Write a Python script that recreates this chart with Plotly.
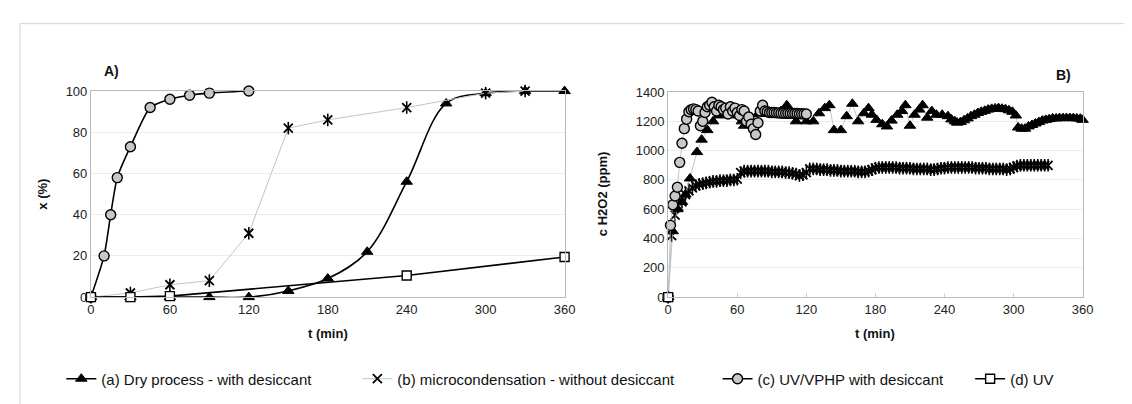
import plotly.graph_objects as go

# ---------------- Panel A data ----------------
a_t = [0, 30, 60, 90, 120, 150, 180, 210, 240, 270, 300, 330, 360]
a_x = [0, 0, 0, 0, 0, 3, 9, 22, 56, 94, 99, 100, 100]

b_t = [0, 30, 60, 90, 120, 150, 180, 240, 300, 330]
b_x = [0, 2, 6, 8, 31, 82, 86, 92, 99, 100]

c_t = [0, 10, 15, 20, 30, 45, 60, 75, 90, 120]
c_x = [0, 20, 40, 58, 73, 92, 96, 98, 99, 100]

d_t = [0, 30, 60, 240, 360]
d_x = [0, 0, 0.5, 10.5, 19.5]

# ---------------- Panel B data ----------------
Ba_t = [0, 4, 8, 12, 15, 19, 25, 29, 34, 39, 44, 48, 52, 56, 60, 64, 66, 70, 74, 78,
        82, 86, 90, 94, 98, 103, 107, 111, 115, 120, 126, 131, 136, 140, 144, 150, 155,
        160, 165, 170, 174, 177, 181, 186, 190, 194, 199, 203, 206, 210, 214, 218, 221,
        225, 229, 233, 238, 243, 246, 249, 251, 254, 257, 260, 263, 266, 269, 272, 275,
        278, 281, 284, 287, 290, 293, 296, 299, 302, 304, 307, 310, 313, 316, 319, 322,
        325, 328, 331, 334, 337, 340, 343, 346, 349, 352, 355, 358, 360]
Ba_c = [0, 450, 600, 650, 700, 810, 990, 1075, 1140, 1200, 1240, 1260, 1250, 1250, 1240,
        1200, 1170, 1230, 1170, 1250, 1260, 1250, 1250, 1260, 1270, 1310, 1250, 1200,
        1240, 1200, 1200, 1255, 1290, 1310, 1140, 1140, 1235, 1320, 1200, 1255, 1290,
        1245, 1210, 1180, 1165, 1205, 1245, 1270, 1310, 1170, 1245, 1280, 1310, 1225,
        1270, 1245, 1245, 1235, 1213, 1200, 1191, 1195, 1207, 1220, 1235, 1245, 1257,
        1265, 1272, 1280, 1285, 1288, 1290, 1286, 1283, 1275, 1265, 1240, 1158, 1150,
        1150, 1165, 1175, 1185, 1195, 1205, 1210, 1215, 1220, 1220, 1222, 1222, 1222,
        1222, 1222, 1220, 1218, 1210]

Bb_t = [0, 3, 6, 9, 12, 15, 18, 21, 24, 27, 30, 33, 36, 39, 42, 45, 48, 51, 54, 57, 60,
        63, 66, 69, 72, 75, 78, 81, 84, 87, 90, 93, 96, 99, 102, 105, 108, 111, 114, 117,
        120, 123, 126, 129, 132, 135, 138, 141, 144, 147, 150, 153, 156, 159, 162, 165,
        168, 171, 174, 177, 180, 183, 186, 189, 192, 195, 198, 201, 204, 207, 210, 213,
        216, 219, 222, 225, 228, 231, 234, 237, 240, 243, 246, 249, 252, 255, 258, 261,
        264, 267, 270, 273, 276, 279, 282, 285, 288, 291, 294, 297, 300, 303, 306, 309,
        312, 315, 318, 321, 324, 327, 330]
Bb_c = [0, 420, 560, 620, 650, 700, 725, 745, 760, 770, 775, 780, 785, 790, 790, 795,
        795, 795, 800, 800, 805, 850, 860, 860, 860, 860, 860, 860, 860, 860, 855, 855,
        855, 855, 850, 850, 845, 840, 830, 835, 850, 875, 875, 875, 870, 870, 870, 865,
        865, 865, 860, 860, 860, 860, 860, 855, 855, 855, 860, 870, 880, 885, 885, 885,
        885, 885, 885, 880, 880, 880, 880, 875, 875, 875, 875, 875, 870, 870, 875, 880,
        880, 885, 885, 885, 885, 885, 885, 885, 885, 880, 880, 880, 880, 875, 875, 875,
        875, 875, 870, 875, 885, 895, 900, 900, 900, 900, 900, 900, 900, 900, 900]

Bc_t = [0, 2, 4, 6, 8, 10, 12, 14, 16, 18, 20, 22, 24, 26, 28, 30, 32, 34, 36, 38, 40,
        42, 44, 46, 48, 50, 52, 54, 56, 58, 60, 62, 64, 66, 68, 70, 72, 74, 76, 78, 80,
        82, 84, 86, 88, 90, 92, 94, 96, 98, 100, 102, 104, 106, 108, 110, 112, 114, 116,
        118, 120]
Bc_c = [0, 490, 630, 690, 750, 920, 1050, 1150, 1215, 1265, 1280, 1285, 1280, 1270,
        1170, 1200, 1260, 1300, 1310, 1330, 1300, 1270, 1310, 1300, 1280, 1290, 1250,
        1300, 1270, 1290, 1260, 1240, 1280, 1270, 1200, 1230, 1180, 1150, 1110, 1190,
        1270, 1310, 1270, 1265, 1260, 1260, 1260, 1258, 1258, 1256, 1256, 1255, 1255,
        1254, 1254, 1253, 1253, 1252, 1252, 1251, 1250]

Bd_t = [0]
Bd_c = [0]

x_ticks = [0, 60, 120, 180, 240, 300, 360]

names = ["(a) Dry process - with desiccant",
         "(b) microcondensation - without desiccant",
         "(c) UV/VPHP with desiccant",
         "(d) UV"]

FONT = "Liberation Sans, Arial, sans-serif"
GRAY_LINE = "#b8b8b8"

tri = dict(symbol="triangle-up", size=10, color="black", line=dict(color="black", width=1))
astx = dict(symbol="x-thin-open", size=9, color="black", line=dict(color="black", width=1.8))
astv = dict(symbol="line-ns-open", size=9, color="black", line=dict(color="black", width=1.6))
circ = dict(symbol="circle", size=10, color="#c8c8c8", line=dict(color="black", width=1.4))
sq = dict(symbol="square", size=9, color="white", line=dict(color="black", width=1.4))

fig = go.Figure()

# Panel A
fig.add_trace(go.Scatter(x=a_t, y=a_x, name=names[0], mode="lines+markers", legend="legend",
                         line=dict(color="black", width=1.6, shape="spline", smoothing=1),
                         marker=tri, cliponaxis=False, xaxis="x", yaxis="y"))
fig.add_trace(go.Scatter(x=b_t, y=b_x, name=names[1], mode="lines+markers", legend="legend2",
                         line=dict(color="#c4c4c4", width=1),
                         marker=astx, cliponaxis=False, xaxis="x", yaxis="y"))
fig.add_trace(go.Scatter(x=b_t, y=b_x, mode="markers", showlegend=False,
                         marker=astv, cliponaxis=False, xaxis="x", yaxis="y"))
fig.add_trace(go.Scatter(x=c_t, y=c_x, name=names[2], mode="lines+markers", legend="legend3",
                         line=dict(color="black", width=1.6, shape="spline", smoothing=0.6),
                         marker=circ, cliponaxis=False, xaxis="x", yaxis="y"))
fig.add_trace(go.Scatter(x=d_t, y=d_x, name=names[3], mode="lines+markers", legend="legend4",
                         line=dict(color="black", width=1.6),
                         marker=sq, cliponaxis=False, xaxis="x", yaxis="y"))

# Panel B
fig.add_trace(go.Scatter(x=Bb_t, y=Bb_c, mode="lines+markers", showlegend=False,
                         line=dict(color=GRAY_LINE, width=0.8),
                         marker=astx, cliponaxis=False, xaxis="x2", yaxis="y2"))
fig.add_trace(go.Scatter(x=Bb_t, y=Bb_c, mode="markers", showlegend=False,
                         marker=astv, cliponaxis=False, xaxis="x2", yaxis="y2"))
fig.add_trace(go.Scatter(x=Ba_t, y=Ba_c, mode="lines+markers", showlegend=False,
                         line=dict(color=GRAY_LINE, width=0.8),
                         marker=tri, cliponaxis=False, xaxis="x2", yaxis="y2"))
fig.add_trace(go.Scatter(x=Bc_t, y=Bc_c, mode="lines+markers", showlegend=False,
                         line=dict(color=GRAY_LINE, width=0.8),
                         marker=circ, cliponaxis=False, xaxis="x2", yaxis="y2"))
fig.add_trace(go.Scatter(x=Bd_t, y=Bd_c, mode="markers", showlegend=False,
                         marker=sq, cliponaxis=False, xaxis="x2", yaxis="y2"))

axis_common = dict(showline=True, linecolor=GRAY_LINE, linewidth=1, mirror=True,
                   zeroline=False, tickfont=dict(family=FONT, size=13, color="#222"))

H = 404.0
W = 1132.0
LEG_Y = (H - 378) / H


def leg(x):
    return dict(orientation="h", x=x / W, xanchor="left", y=LEG_Y, yanchor="middle",
                font=dict(family=FONT, size=15, color="#111"), itemwidth=30,
                bgcolor="rgba(0,0,0,0)", borderwidth=0)


fig.update_layout(
    width=1132, height=404,
    margin=dict(l=0, r=0, t=0, b=0),
    paper_bgcolor="white", plot_bgcolor="white",
    font=dict(family=FONT, size=13, color="#222"),
    xaxis=dict(domain=[80 / W, 560 / W], range=[0, 360], tickvals=x_ticks,
               showgrid=False, ticks="", **axis_common),
    yaxis=dict(domain=[(H - 293) / H, (H - 79) / H], range=[0, 100], dtick=20,
               showgrid=True, gridcolor="#ececec", ticks="", **axis_common),
    xaxis2=dict(domain=[665 / W, 1085 / W], range=[0, 360], tickvals=x_ticks,
                showgrid=False, ticks="inside", ticklen=4, tickcolor="#d0d0d0",
                anchor="y2", **axis_common),
    yaxis2=dict(domain=[(H - 293) / H, (H - 80) / H], range=[0, 1400], dtick=200,
                showgrid=True, gridcolor="#ececec", ticks="", anchor="x2", **axis_common),
    legend=leg(50),
    legend2=leg(350),
    legend3=leg(715),
    legend4=leg(971),
    showlegend=True,
)


def ann(text, x, y, angle=0, size=13):
    fig.add_annotation(text=text, x=x / W, y=(H - y) / H, xref="paper", yref="paper",
                       showarrow=False, textangle=angle,
                       font=dict(family=FONT, size=size, color="#111"),
                       xanchor="center", yanchor="middle")


ann("<b>A)</b>", 101, 58, size=14)
ann("<b>B)</b>", 1066, 62, size=14)
ann("<b>x (%)</b>", 31, 186, angle=-90)
ann("<b>t (min)</b>", 320, 331)
ann("<b>c H2O2 (ppm)</b>", 598, 186, angle=-90)
ann("<b>t (min)</b>", 875, 331)

# outer frame (top and left edges visible)
fig.add_shape(type="line", xref="paper", yref="paper", x0=8 / W, x1=1.0,
              y0=(H - 9) / H, y1=(H - 9) / H, line=dict(color="#d4d4d4", width=1))
fig.add_shape(type="line", xref="paper", yref="paper", x0=8 / W, x1=8 / W,
              y0=0, y1=(H - 9) / H, line=dict(color="#d4d4d4", width=1))

fig.write_html("out.html")
